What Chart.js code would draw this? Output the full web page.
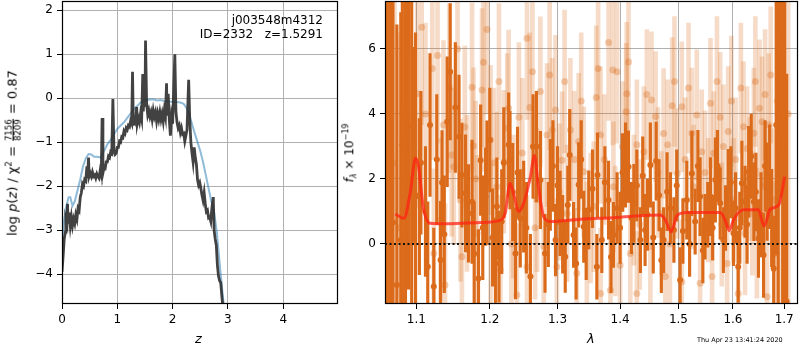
<!DOCTYPE html>
<html lang="en">
<head>
<meta charset="UTF-8">
<title>p(z) and spectrum j003548m4312</title>
<script src="https://cdn.jsdelivr.net/npm/chart.js@4.4.1/dist/chart.umd.min.js"></script>
<style>
  body { margin: 0; background: #fff; font-family: "DejaVu Sans", sans-serif; }
  #wrap { position: relative; width: 800px; height: 350px; overflow: hidden; }
  #pz { position: absolute; left: 0; top: -10px; }
  #sp { position: absolute; left: 345px; top: -10px; }
  .lbl { position: absolute; color: #000; white-space: nowrap; font-size: 12px; }
  .rot { transform: translate(-50%, -50%) rotate(-90deg); }
  .frac { display: inline-flex; flex-direction: column; vertical-align: middle; font-size: 8.5px; line-height: 8.5px; text-align: center; margin: 0 1px; }
  .frac span:first-child { border-bottom: 1px solid #000; }
</style>
</head>
<body>
<div id="wrap">
  <canvas id="pz" width="345" height="360"></canvas>
  <canvas id="sp" width="465" height="360"></canvas>

  <div class="lbl" style="right:477px; top:13px; text-align:right; line-height:14px;">j003548m4312<br>ID=2332&nbsp;&nbsp;&nbsp;z=1.5291</div>
  <div class="lbl rot" style="left:13px; top:153px; font-size:13px;">log <i>p</i>(<i>z</i>) / χ<sup style="font-size:8.5px">2</sup> = <span class="frac"><span>7156</span><span>8209</span></span> = 0.87</div>
  <div class="lbl" style="left:195px; top:331px; font-size:13px;"><i>z</i></div>
  <div class="lbl rot" style="left:350px; top:153px;"><i>f</i><sub style="font-size:8px"><i>λ</i></sub> × 10<sup style="font-size:8px">−19</sup></div>
  <div class="lbl" style="left:587px; top:331px; font-size:13px;"><i>λ</i></div>
  <div class="lbl" style="left:697px; top:336px; font-size:6.5px;">Thu Apr 23 13:41:24 2020</div>
</div>

<script>
// ---- left panel: redshift probability ----
const zTicks = [0, 1, 2, 3, 4];
const logpTicks = [-4, -3, -2, -1, 0, 1, 2];

// smooth template p(z)
const zSmooth = [0.00, 0.04, 0.08, 0.12, 0.15, 0.19, 0.23, 0.28, 0.33, 0.38, 0.43, 0.48, 0.53, 0.58, 0.64, 0.70,
  0.76, 0.82, 0.88, 0.94, 1.00, 1.06, 1.12, 1.18, 1.24, 1.30, 1.36, 1.42, 1.48, 1.54, 1.60, 1.66, 1.72, 1.78,
  1.84, 1.90, 1.96, 2.02, 2.08, 2.14, 2.20, 2.25, 2.30, 2.35, 2.40, 2.45, 2.50, 2.55, 2.60, 2.65, 2.70, 2.75,
  2.80, 2.85, 2.90, 2.95];
const logpSmooth = [-3.25, -2.75, -2.45, -2.25, -2.25, -2.45, -2.35, -2.1, -1.85, -1.55, -1.37, -1.27, -1.28, -1.33, -1.33, -1.35,
  -1.2, -1.05, -0.95, -0.82, -0.7, -0.62, -0.55, -0.45, -0.35, -0.25, -0.18, -0.1, -0.06, -0.04, -0.03, -0.03, -0.05, -0.04,
  -0.06, -0.07, -0.08, -0.08, -0.09, -0.1, -0.13, -0.22, -0.38, -0.58, -0.8, -1.0, -1.2, -1.45, -1.75, -2.05, -2.35, -2.6,
  -3.05, -3.75, -4.4, -5.0];

// noisy p(z) of the fit
const zFit = [0.00, 0.02, 0.04, 0.06, 0.07, 0.09, 0.10, 0.11, 0.13, 0.15, 0.17, 0.19, 0.21, 0.23, 0.25, 0.27, 0.29, 0.31, 0.33, 0.35,
  0.37, 0.39, 0.41, 0.43, 0.45, 0.46, 0.48, 0.49, 0.51, 0.53, 0.55, 0.57, 0.59, 0.61, 0.63, 0.65, 0.67, 0.69, 0.71, 0.725,
  0.74, 0.76, 0.78, 0.80, 0.82, 0.84, 0.86, 0.88, 0.90, 0.92, 0.94, 0.96, 0.98, 1.00, 1.02, 1.04, 1.06, 1.08, 1.10, 1.12,
  1.14, 1.16, 1.18, 1.20, 1.22, 1.24, 1.26, 1.275, 1.29, 1.31, 1.33, 1.35, 1.36, 1.38, 1.40, 1.42, 1.44, 1.46, 1.47, 1.49,
  1.50, 1.51, 1.53, 1.55, 1.57, 1.59, 1.61, 1.63, 1.65, 1.67, 1.69, 1.71, 1.73, 1.75, 1.77, 1.79, 1.81, 1.83, 1.85, 1.87,
  1.89, 1.90, 1.92, 1.94, 1.96, 1.98, 2.00, 2.04, 2.06, 2.08, 2.10, 2.12, 2.14, 2.16, 2.18, 2.20, 2.22, 2.24, 2.26, 2.29,
  2.31, 2.33, 2.35, 2.37, 2.39, 2.41, 2.43, 2.45, 2.47, 2.49, 2.51, 2.53, 2.55, 2.57, 2.59, 2.61, 2.63, 2.65, 2.67, 2.69,
  2.71, 2.735, 2.75, 2.77, 2.79, 2.81, 2.83, 2.85, 2.87, 2.89, 2.92];
const logpFit = [-3.95, -3.6, -3.2, -3.05, -2.75, -2.85, -2.4, -2.85, -2.6, -2.9, -2.7, -2.9, -2.75, -2.85, -2.65, -2.75, -2.5, -2.55, -2.25, -2.15,
  -1.95, -2.0, -1.85, -1.88, -1.55, -1.82, -1.35, -1.78, -1.7, -1.78, -1.68, -1.78, -1.75, -1.82, -1.72, -1.78, -1.82, -1.65, -1.75, -0.45,
  -1.7, -1.58, -1.6, -1.45, -1.45, -1.32, -1.35, -1.22, -1.25, -0.02, -1.2, -1.28, -1.25, -1.12, -1.12, -0.98, -1.0, -0.88, -0.9, -0.75,
  -0.8, -0.68, -0.72, -0.62, -0.65, -0.52, -0.58, 0.6, -0.62, -0.48, -0.55, -0.2, -0.58, -0.45, -0.55, -0.35, -0.48, 0.55, -0.3, 0.4,
  -0.2, 1.31, -0.12, -0.38, -0.28, -0.42, -0.32, -0.48, -0.28, -0.42, -0.32, -0.52, -0.35, -0.48, -0.32, -0.48, -0.35, -0.52, -0.28, -0.42,
  0.34, -0.4, 0.1, -0.5, -0.85, -0.42, -0.58, 1.0, -0.32, -0.55, -0.68, -0.62, -0.78, -0.68, -0.82, -0.8, -0.98, -0.85, -0.72, 0.42,
  -0.5, -1.0, -1.25, -1.45, -1.12, -1.35, -1.5, -1.85, -1.98, -1.92, -2.05, -2.2, -2.32, -2.15, -2.4, -2.58, -2.55, -2.72, -2.7, -2.8,
  -2.5, -2.25, -3.0, -3.2, -3.35, -3.8, -4.05, -4.15, -4.2, -4.5, -4.9];

// ---- right panel: spectrum ----
const lamTicks = [1.1, 1.2, 1.3, 1.4, 1.5, 1.6, 1.7];
const fluxTicks = [0, 2, 4, 6];

// high-weight points
const darkLam = [1.063, 1.067, 1.070, 1.075, 1.080, 1.082, 1.086, 1.090, 1.094, 1.096, 1.099, 1.104, 1.115, 1.118, 1.123, 1.127,
  1.132, 1.134, 1.141, 1.145, 1.157, 1.161, 1.166, 1.170, 1.175, 1.184, 1.187, 1.194, 1.196, 1.208, 1.210, 1.213, 1.217, 1.220,
  1.227, 1.229, 1.237, 1.244, 1.249, 1.259, 1.263, 1.268, 1.274, 1.281, 1.289, 1.297, 1.304, 1.312, 1.319, 1.325, 1.333, 1.341,
  1.349, 1.362, 1.363, 1.370, 1.381, 1.389, 1.409, 1.414, 1.423, 1.434, 1.442, 1.451, 1.461, 1.474, 1.480, 1.486, 1.492, 1.503,
  1.515, 1.524, 1.530, 1.539, 1.548, 1.558, 1.567, 1.576, 1.582, 1.591, 1.601, 1.610, 1.617, 1.623, 1.630, 1.640, 1.649, 1.659,
  1.666, 1.671, 1.679, 1.684, 1.688, 1.692, 1.697, 1.701, 1.705,
  1.106, 1.112, 1.137, 1.152, 1.178, 1.190, 1.200, 1.204, 1.233, 1.240, 1.253, 1.286, 1.293, 1.300, 1.308, 1.316,
  1.329, 1.337, 1.345, 1.355, 1.375, 1.385, 1.395, 1.400, 1.404, 1.419, 1.428, 1.438, 1.446, 1.456, 1.466, 1.470,
  1.497, 1.508, 1.520, 1.535, 1.544, 1.553, 1.562, 1.571, 1.586, 1.596, 1.605, 1.613, 1.627, 1.635, 1.644, 1.654,
  1.662, 1.675];
const darkFlux = [2.0, 4.0, 0.66, -1.26, 0.12, 3.05, 1.0, 3.61, 2.0, 3.05, 1.5, 1.46, -0.7, 3.66, -1.31, 2.6,
  -0.49, 1.89, 3.76, 5.3, 3.3, 2.12, 1.56, 0.94, 1.3, -1.06, 2.58, 1.46, 1.89, -0.6, 1.15, -0.39, 0.69, 2.5,
  3.05, 2.58, -0.29, 0.79, 1.15, -1.0, 3.0, 3.0, 1.97, -0.29, 1.82, 0.12, 0.94, -0.39, 2.74, 0.28, 1.82, 0.53,
  1.05, -0.7, 2.12, 0.12, 1.35, 0.28, 2.43, 2.38, 1.25, 0.12, 0.43, 2.43, 2.55, 0.12, 1.61, 1.1, 0.43, -1.11,
  1.35, 2.17, 0.69, 1.46, 0.53, 1.46, 1.97, 1.25, 0.12, 1.71, 0.33, -0.7, 1.87, 1.3, 2.22, 1.3, 0.17, -0.34,
  1.61, 2.07, -0.75, 3.66, 2.0, 6.43, 3.0, 2.0, -1.77,
  2.5, 1.0, 0.3, 4.2, -0.3, 0.5, 3.2, 0.2, 1.6, 2.2, 0.5, 0.6, 2.4, 1.8, 0.3, 1.2,
  -0.6, 2.6, 0.0, 1.7, 1.9, -0.4, 1.1, 0.5, 2.2, 0.8, 1.8, 2.1, 0.9, 0.2, 1.5, -0.5,
  1.8, 0.4, 0.0, 2.4, -0.2, 0.9, 0.5, 2.4, 0.8, 1.9, 1.1, 0.5, 0.6, 2.7, 1.6, 0.9,
  2.4, 0.8];
const darkErr = [7, 6, 8, 8, 7, 6, 7, 5, 6, 3, 5, 2.4, 2.0, 2.2, 1.8, 2.0,
  1.8, 1.6, 2.0, 2.1, 1.9, 1.6, 1.8, 1.5, 1.9, 1.5, 1.7, 1.5, 1.9, 1.4, 1.5, 1.4, 1.6, 1.7,
  1.6, 1.5, 1.4, 1.5, 1.4, 1.3, 1.6, 1.7, 1.5, 1.2, 1.4, 1.1, 1.3, 1.1, 1.4, 1.0, 1.3, 1.1,
  1.2, 1.0, 1.3, 1.0, 1.2, 1.0, 1.3, 1.1, 1.2, 1.0, 1.1, 1.3, 1.2, 1.0, 1.2, 1.1, 1.0, 1.0,
  1.2, 1.3, 1.0, 1.2, 1.0, 1.2, 1.3, 1.1, 1.0, 1.2, 1.0, 1.1, 1.3, 1.1, 1.4, 1.2, 1.2, 1.3,
  1.5, 1.6, 1.6, 4, 6, 5, 6, 7, 7,
  2.2, 2.0, 1.8, 2.0, 1.6, 1.6, 1.6, 1.5, 1.5, 1.4, 1.4, 1.3, 1.4, 1.2, 1.2, 1.2,
  1.1, 1.2, 1.1, 1.2, 1.1, 1.1, 1.1, 1.1, 1.2, 1.1, 1.1, 1.2, 1.1, 1.1, 1.1, 1.0,
  1.1, 1.0, 1.0, 1.1, 1.0, 1.0, 1.0, 1.1, 1.0, 1.1, 1.1, 1.1, 1.2, 1.3, 1.2, 1.3,
  1.4, 1.5];

// low-weight points
const lightLam = [1.065, 1.072, 1.078, 1.084, 1.101, 1.107, 1.121, 1.123, 1.132, 1.136, 1.138, 1.147, 1.150, 1.159, 1.161, 1.168,
  1.175, 1.177, 1.182, 1.189, 1.191, 1.201, 1.201, 1.210, 1.215, 1.220, 1.225, 1.227, 1.234, 1.239, 1.242, 1.254, 1.254, 1.262,
  1.269, 1.274, 1.279, 1.284, 1.292, 1.297, 1.299, 1.307, 1.315, 1.320, 1.330, 1.333, 1.341, 1.346, 1.357, 1.361, 1.368, 1.368,
  1.381, 1.384, 1.388, 1.389, 1.395, 1.400, 1.410, 1.411, 1.417, 1.423, 1.428, 1.428, 1.440, 1.451, 1.453, 1.460, 1.470, 1.477,
  1.481, 1.489, 1.498, 1.506, 1.506, 1.524, 1.527, 1.533, 1.539, 1.542, 1.554, 1.558, 1.561, 1.564, 1.576, 1.582, 1.589, 1.591,
  1.601, 1.610, 1.620, 1.623, 1.627, 1.637, 1.640, 1.646, 1.651, 1.656, 1.659, 1.666, 1.669, 1.679, 1.682, 1.690, 1.699, 1.708,
  1.112, 1.128, 1.144, 1.155, 1.165, 1.180, 1.196, 1.206, 1.213, 1.231, 1.247, 1.258, 1.266, 1.288, 1.303, 1.311,
  1.326, 1.337, 1.352, 1.364, 1.374, 1.392, 1.404, 1.414, 1.433, 1.445, 1.464, 1.474, 1.485, 1.493, 1.512, 1.518,
  1.548, 1.570, 1.579, 1.597, 1.605, 1.615, 1.632, 1.643, 1.662, 1.673, 1.686];
const lightFlux = [1.5, 2.5, 0.5, 0.33, 4.62, 6.67, 5.4, -0.29, 0.74, 3.66, -1.26, 2.74, 2.38, 1.35, -0.39, 1.56,
  4.82, 3.02, 0.33, 4.74, 5.59, 3.2, 0.12, 1.76, -0.8, 2.53, 3.56, 4.18, 1.15, -1.57, 3.9, 6.33, -0.7, 5.3,
  1.35, 4.69, -0.08, 3.35, 3.51, 4.12, -0.7, 2.58, 0.94, 3.51, -0.9, 3.15, 2.22, -0.08, 1.15, 4.51, 3.35, -1.52,
  6.2, -1.42, 5.35, 1.76, 5.3, -0.65, 4.07, 4.62, -0.29, 1.35, 3.05, -1.52, 2.84, -0.08, 4.43, 3.92, 0.94, -1.0,
  3.05, 4.25, 2.17, 4.22, -1.16, 3.41, 1.76, 3.97, -1.21, 2.84, 1.35, 4.33, -1.0, 2.79, 3.9, 3.0, -0.6, 3.46,
  1.35, -1.52, 3.61, 0.33, 2.94, 0.94, 3.41, 0.33, 4.18, 3.76, 1.76, -1.62, 3.66, 1.35, -0.29, 3.0, 2.0, 4.0,
  4.0, 5.8, 4.8, 6.0, 3.6, 2.0, 6.6, 2.5, 5.0, 0.0, 2.8, 4.2, 0.5, 5.2, 1.6, 5.0,
  2.6, 4.4, 0.8, 5.4, 2.6, 0.4, 3.0, 5.6, 0.6, 4.6, 2.2, 3.4, 0.0, 5.0, 2.6, 4.8,
  2.2, 5.0, 0.6, 4.4, 2.6, 4.8, 2.0, 5.0, 4.6, 5.2, 4.4];
const lightErr = [7, 7, 6, 4, 3.5, 3.0, 2.8, 2.6, 2.5, 2.6, 2.5, 2.5, 2.4, 2.5, 2.4, 2.4,
  2.6, 2.4, 2.4, 2.5, 2.6, 2.3, 2.3, 2.3, 2.3, 2.2, 2.3, 2.4, 2.2, 2.2, 2.3, 2.5, 2.2, 2.4,
  2.2, 2.3, 2.1, 2.2, 2.2, 2.3, 2.1, 2.1, 2.1, 2.2, 2.0, 2.1, 2.0, 2.0, 2.0, 2.2, 2.1, 2.0,
  2.4, 2.0, 2.3, 2.0, 2.2, 2.0, 2.1, 2.2, 2.0, 2.0, 2.0, 1.9, 2.0, 1.9, 2.1, 2.0, 1.9, 1.9,
  2.0, 2.1, 2.0, 2.0, 1.9, 2.0, 1.9, 2.0, 1.9, 1.9, 1.9, 2.0, 1.9, 1.9, 2.0, 1.9, 1.9, 2.0,
  1.9, 1.9, 2.0, 1.9, 1.9, 1.9, 2.0, 2.0, 2.1, 2.0, 2.0, 2.0, 2.2, 2.2, 2.2, 6, 6, 6,
  2.8, 2.7, 2.6, 2.6, 2.5, 2.4, 2.6, 2.3, 2.4, 2.2, 2.3, 2.3, 2.2, 2.3, 2.1, 2.2,
  2.1, 2.1, 2.0, 2.1, 2.0, 2.0, 2.0, 2.1, 2.0, 2.0, 2.0, 2.0, 1.9, 2.0, 1.9, 2.0,
  1.9, 2.0, 1.9, 2.0, 1.9, 2.0, 1.9, 2.0, 2.0, 2.1, 2.2];

// best-fit model
const modelLam = [1.073, 1.084, 1.092, 1.099, 1.103, 1.109, 1.118, 1.141, 1.187, 1.213, 1.222, 1.229, 1.234, 1.242, 1.249,
  1.259, 1.265, 1.271, 1.279, 1.289, 1.336, 1.389, 1.468, 1.477, 1.487, 1.498, 1.515, 1.576, 1.585, 1.593, 1.601,
  1.620, 1.649, 1.660, 1.672, 1.689, 1.701];
const modelFlux = [0.92, 0.79, 1.56, 2.64, 2.38, 1.15, 0.64, 0.62, 0.66, 0.72, 0.94, 1.87, 1.56, 1.0, 1.25,
  2.07, 2.72, 1.76, 0.84, 0.69, 0.76, 0.81, 0.89, 0.74, 0.38, 0.89, 0.97, 0.97, 0.74, 0.41, 0.74,
  1.05, 1.05, 0.55, 1.07, 1.2, 2.07];

const orange = 'rgb(219, 107, 26)';
const orangeLight = 'rgba(219, 107, 26, 0.24)';
const orangeDot = 'rgba(219, 107, 26, 0.32)';
const font = { family: 'DejaVu Sans', size: 12 };

const pts = (xs, ys) => xs.map((x, i) => ({ x: x, y: ys[i] }));
const bars = (xs, ys, es) => xs.map((x, i) => ({ x: x, y: [ys[i] - es[i], ys[i] + es[i]] }));
const minus = v => String(v).replace('-', '\u2212');

const frame = {
  id: 'frame',
  afterDraw(chart) {
    const a = chart.chartArea, ctx = chart.ctx;
    ctx.save();
    ctx.strokeStyle = '#000';
    ctx.lineWidth = 1.2;
    ctx.strokeRect(Math.round(a.left) + 0.5, Math.round(a.top) + 0.5, Math.round(a.right - a.left) - 1, Math.round(a.bottom - a.top) - 1);
    ctx.restore();
  }
};

function axis(extra, fixTicks, size, isX, fmt) {
  return Object.assign({
    offset: false,
    grid: { color: '#b0b0b0', lineWidth: 1, tickColor: '#000', tickLength: 5, offset: false },
    border: { display: false },
    ticks: { color: '#000', font: font, padding: 4, maxRotation: 0, autoSkip: false, callback: fmt || (v => minus(v)) },
    afterBuildTicks: s => { s.ticks = fixTicks.map(v => ({ value: v })); },
    afterFit: s => { if (isX) s.height = size; else s.width = size; }
  }, extra);
}

new Chart(document.getElementById('pz'), {
  type: 'line',
  data: {
    datasets: [
      { data: pts(zFit, logpFit), borderColor: 'rgba(45, 45, 45, 0.9)', borderWidth: 2.8, pointRadius: 0, order: 0 },
      { data: pts(zSmooth, logpSmooth), borderColor: 'rgba(31, 119, 180, 0.5)', borderWidth: 2, pointRadius: 0, order: 1 }
    ]
  },
  options: {
    responsive: false, animation: false,
    layout: { padding: { top: 11, right: 7, left: 0, bottom: 0 } },
    plugins: { legend: { display: false }, tooltip: { enabled: false } },
    scales: {
      x: axis({ type: 'linear', min: 0, max: 4.99 }, zTicks, 46, true),
      y: axis({ type: 'linear', min: -4.68, max: 2.205 }, logpTicks, 62, false)
    }
  },
  plugins: [frame]
});

new Chart(document.getElementById('sp'), {
  type: 'line',
  data: {
    datasets: [
      { type: 'line', data: pts(modelLam, modelFlux), borderColor: 'rgba(255, 35, 20, 0.75)', borderWidth: 3,
        pointRadius: 0, cubicInterpolationMode: 'monotone', order: 0 },
      { type: 'line', data: [{ x: 1.06, y: 0 }, { x: 1.728, y: 0 }], borderColor: '#111', borderWidth: 2,
        borderDash: [2, 2.5], pointRadius: 0, order: 1 },
      { type: 'scatter', data: pts(darkLam, darkFlux), backgroundColor: orange, borderWidth: 0, pointRadius: 3, order: 2 },
      { type: 'bar', data: bars(darkLam, darkFlux, darkErr), backgroundColor: orange, barThickness: 2.5, grouped: false, order: 3 },
      { type: 'scatter', data: pts(lightLam, lightFlux), backgroundColor: orangeDot, borderWidth: 0, pointRadius: 3.5, order: 4 },
      { type: 'bar', data: bars(lightLam, lightFlux, lightErr), backgroundColor: orangeLight, barThickness: 4, grouped: false, order: 5 }
    ]
  },
  options: {
    responsive: false, animation: false,
    layout: { padding: { top: 11, right: 12, left: 0, bottom: 0 } },
    plugins: { legend: { display: false }, tooltip: { enabled: false } },
    scales: {
      x: axis({ type: 'logarithmic', min: 1.06, max: 1.728 }, lamTicks, 46, true, v => Number(v).toFixed(1)),
      y: axis({ type: 'linear', min: -1.846, max: 7.47 }, fluxTicks, 40, false)
    }
  },
  plugins: [frame]
});
</script>
</body>
</html>
